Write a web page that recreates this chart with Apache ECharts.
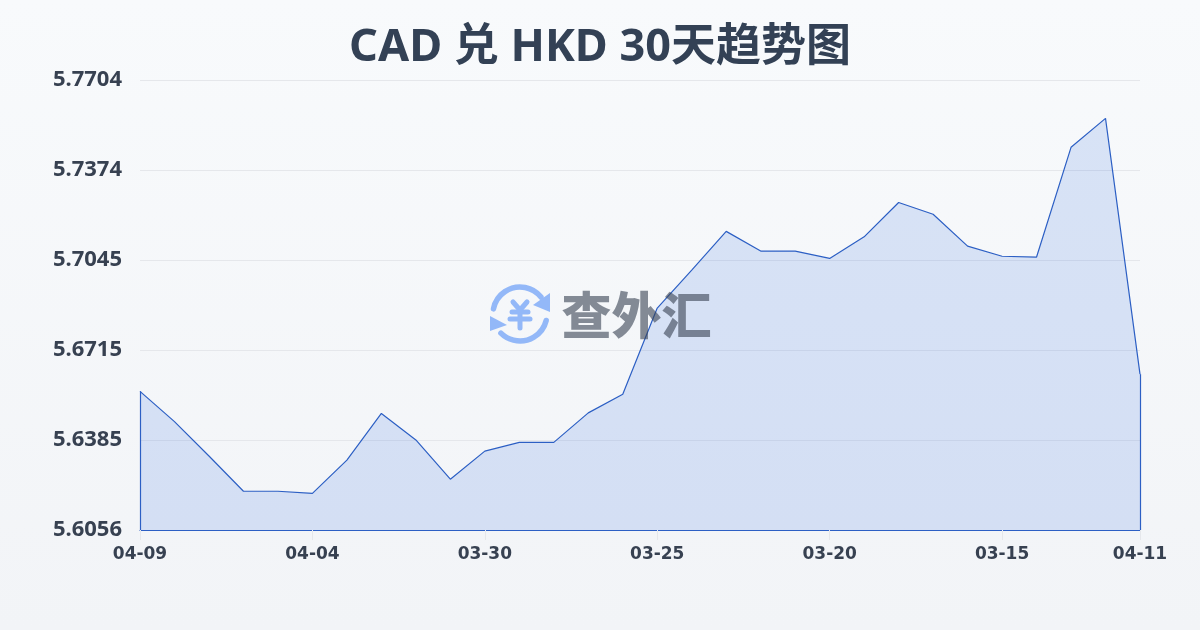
<!DOCTYPE html>
<html>
<head>
<meta charset="utf-8">
<style>html,body{margin:0;padding:0;background:#f5f7fa}#c{width:1200px;height:630px}</style>
<script src="https://cdn.jsdelivr.net/npm/echarts@6/dist/echarts.min.js"></script>
</head>
<body>
<div id="c"></div>
<script>
const titleText = 'CAD 兑 HKD 30天趋势图';
const watermarkText = '查外汇';
const categories = ['04-09','04-08','04-07','04-06','04-05','04-04','04-03','04-02','04-01','03-31','03-30','03-29','03-28','03-27','03-26','03-25','03-24','03-23','03-22','03-21','03-20','03-19','03-18','03-17','03-16','03-15','03-14','03-13','03-12','04-11'];
const rates = [5.6564,5.6453,5.6327,5.6198,5.6198,5.6190,5.6312,5.6483,5.6386,5.6242,5.6345,5.6377,5.6377,5.6485,5.6553,5.6869,5.7008,5.7150,5.7078,5.7078,5.7051,5.7130,5.7256,5.7213,5.7096,5.7059,5.7056,5.7458,5.7564,5.6627];
const xLabelIndexes = [0,5,10,15,20,25,29];
const yTickLabels = ['5.6056','5.6385','5.6715','5.7045','5.7374','5.7704'];
const yStep = 0.0329741;
const yMin = yStep * 170;
const yMax = yStep * 175;

const FONT = '"Noto Sans","Noto Sans CJK SC",sans-serif';
const XFONT = '"DejaVu Sans",sans-serif';
const LINE = '#2c5fc4';
const ICON = '#93b8f8';
const TEXT = '#374151';
const showX = i => xLabelIndexes.includes(i);
const iconStroke = {stroke: ICON, lineWidth: 5.5, lineCap: 'round', fill: null};
const yenStroke = {stroke: ICON, lineWidth: 5, lineCap: 'round', lineJoin: 'round', fill: null};

const chart = echarts.init(document.getElementById('c'), null, {renderer: 'canvas'});
chart.setOption({
  animation: false,
  backgroundColor: new echarts.graphic.LinearGradient(0, 0, 0, 1, [
    {offset: 0, color: '#f8fafc'}, {offset: 1, color: '#f2f4f7'}
  ]),
  textStyle: {fontFamily: FONT},
  title: {
    text: titleText, left: 'center', top: 21,
    textStyle: {fontFamily: FONT, fontSize: 45, fontWeight: 'bold', color: '#334155'}
  },
  grid: {left: 140, right: 60, top: 80, bottom: 100},
  xAxis: {
    type: 'category', data: categories, boundaryGap: false,
    axisLine: {show: true, lineStyle: {color: LINE, width: 1.2}},
    axisTick: {show: true, interval: showX, length: 10, lineStyle: {color: '#e5e7eb'}},
    axisLabel: {interval: showX, margin: 16, fontFamily: XFONT, fontSize: 17, fontWeight: 'bold', color: TEXT},
    splitLine: {show: false}
  },
  yAxis: {
    type: 'value', min: yMin, max: yMax, interval: yStep,
    axisLine: {show: false}, axisTick: {show: false},
    axisLabel: {margin: 18, fontFamily: FONT, fontSize: 22, fontWeight: 'bold', color: TEXT,
      formatter: (v, i) => yTickLabels[i]},
    splitLine: {show: true, lineStyle: {color: '#e5e7eb', width: 1}}
  },
  series: [{
    type: 'line', data: rates, symbol: 'none', smooth: false, z: 3,
    lineStyle: {color: LINE, width: 1.2},
    areaStyle: {color: 'rgba(37,99,220,0.145)', opacity: 1},
    markLine: {
      silent: true, symbol: 'none', animation: false, label: {show: false},
      lineStyle: {color: LINE, width: 1.2, type: 'solid'},
      data: [
        [{coord: [categories[0], yMin]}, {coord: [categories[0], rates[0]]}],
        [{coord: [categories[29], yMin]}, {coord: [categories[29], rates[29]]}]
      ]
    }
  }],
  graphic: [
    {type: 'arc', silent: true, z: 1, shape: {cx: 520, cy: 314, r: 27, startAngle: 191*Math.PI/180, endAngle: 321*Math.PI/180, clockwise: true}, style: iconStroke},
    {type: 'arc', silent: true, z: 1, shape: {cx: 520, cy: 314, r: 27, startAngle: 14*Math.PI/180, endAngle: 135*Math.PI/180, clockwise: true}, style: iconStroke},
    {type: 'polygon', silent: true, z: 1, shape: {points: [[550,293],[550,312],[533,305]]}, style: {fill: ICON}},
    {type: 'polygon', silent: true, z: 1, shape: {points: [[490,316],[490,331],[507,325]]}, style: {fill: ICON}},
    {type: 'polyline', silent: true, z: 1, shape: {points: [[513,302],[520,310],[527,302]]}, style: yenStroke},
    {type: 'line', silent: true, z: 1, shape: {x1: 512, y1: 312, x2: 528, y2: 312}, style: yenStroke},
    {type: 'line', silent: true, z: 1, shape: {x1: 510, y1: 319, x2: 530, y2: 319}, style: yenStroke},
    {type: 'line', silent: true, z: 1, shape: {x1: 520, y1: 310, x2: 520, y2: 328}, style: yenStroke},
    {type: 'text', silent: true, z: 5, x: 636.5, y: 315, style: {
      text: watermarkText, fill: 'rgba(55,65,81,0.6)', font: '900 50px "Noto Sans CJK SC"',
      align: 'center', verticalAlign: 'middle'
    }}
  ]
});
</script>
</body>
</html>
